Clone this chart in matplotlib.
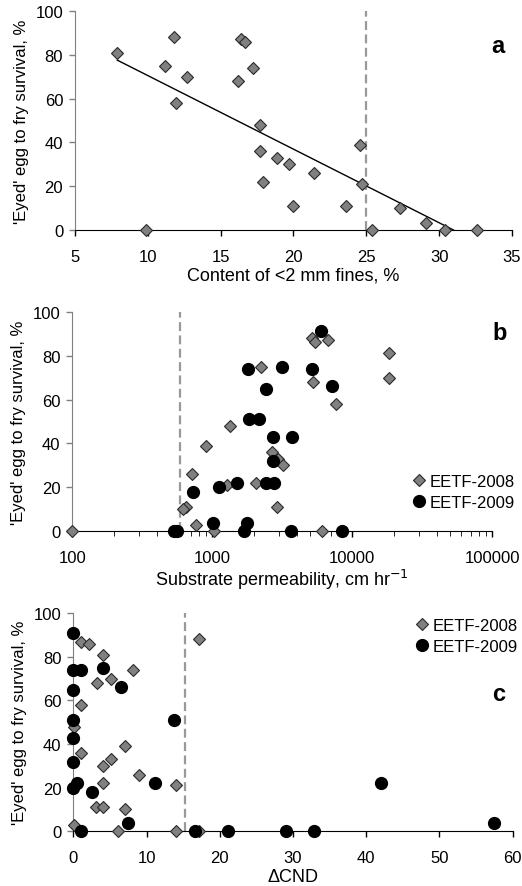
import numpy as np
import matplotlib
matplotlib.use("Agg")
import matplotlib.pyplot as plt
from matplotlib.ticker import FixedLocator, LogLocator, NullFormatter

plt.rcParams['font.family'] = ['Liberation Sans', 'DejaVu Sans']
plt.rcParams['font.size'] = 12

# panel a: fines content vs survival
fines_pct = [7.9, 11.8, 11.2, 12.7, 11.9, 9.9, 16.4, 16.7, 16.2, 17.2, 17.7, 17.7,
             17.9, 18.9, 19.7, 20.0, 21.4, 23.6, 24.6, 24.7, 25.4, 27.3, 29.1, 30.4, 32.6]
fines_surv = [81, 88, 75, 70, 58, 0, 87, 86, 68, 74, 48, 36,
              22, 33, 30, 11, 26, 11, 39, 21, 0, 10, 3, 0, 0]
trend_slope = -3.36
trend_intercept = 104.1
fines_limit = 25

# panel b: permeability vs survival
perm_2008 = [100, 5130, 5400, 6670, 18300, 18300, 2230, 5260, 7640, 1335, 900, 2650,
             2960, 3180, 720, 2040, 1280, 650, 620, 2910, 760, 1020, 6030]
surv_perm_2008 = [0, 88, 86, 87, 81, 70, 75, 68, 58, 48, 39, 36,
                  33, 30, 26, 22, 21, 11, 10, 11, 3, 0, 0]
perm_2009 = [5970, 1790, 3130, 5130, 2420, 7110, 1820, 2160, 2730, 3690, 2700, 724,
             1120, 1490, 2400, 2760, 1005, 1780, 530, 560, 1680, 3650, 8480]
surv_perm_2009 = [91, 74, 75, 74, 65, 66, 51, 51, 43, 43, 32, 18,
                  20, 22, 22, 22, 4, 4, 0, 0, 0, 0, 0]
perm_limit = 590

# panel c: delta CND vs survival
cnd_2008 = [1.1, 2.1, 4.1, 8.1, 5.1, 3.2, 1.1, 0.1, 7.1, 1.1, 5.1, 4.1,
            9.0, 4.1, 14.0, 3.1, 4.1, 7.1, 0.1, 6.1, 14.0, 17.1, 17.2]
surv_cnd_2008 = [87, 86, 81, 74, 70, 68, 58, 48, 39, 36, 33, 30,
                 26, 22, 21, 11, 11, 10, 3, 0, 0, 88, 0]
cnd_2009 = [0, 0, 1.1, 4.0, 0, 6.5, 0, 13.8, 0, 0, 0, 0.5,
            2.5, 11.1, 42.0, 7.5, 57.4, 1.1, 16.6, 21.1, 29.0, 32.9]
surv_cnd_2009 = [91, 74, 74, 75, 65, 66, 51, 51, 43, 32, 20, 22,
                 18, 22, 22, 4, 4, 0, 0, 0, 0, 0]
cnd_limit = 15.2

ylabel = "'Eyed' egg to fry survival, %"
diamond_kw = dict(marker='D', ms=6.2, mfc='#808080', mec='#2a2a2a', mew=0.8,
                  ls='none', clip_on=False, zorder=3)
circle_kw = dict(marker='o', ms=8.5, mfc='black', mec='black',
                 ls='none', clip_on=False, zorder=4)
dash_kw = dict(color='#999999', lw=1.6, ls=(0, (4, 2)), zorder=1)
legend_kw = dict(loc='upper left', frameon=False, fontsize=12, borderpad=0,
                 borderaxespad=0, handletextpad=0.0, labelspacing=0.35,
                 handlelength=1.3)


def style_axes(ax):
    for side in ('top', 'right'):
        ax.spines[side].set_visible(False)
    ax.spines['left'].set_color('#808080')
    ax.spines['bottom'].set_color('black')
    ax.tick_params(direction='out', length=4.5, width=1, labelsize=12)
    ax.tick_params(axis='y', colors='#808080', labelcolor='black', pad=4)
    ax.tick_params(axis='x', pad=9)
    ax.set_ylim(0, 100)
    ax.set_yticks(np.arange(0, 101, 20))
    ax.set_ylabel(ylabel, fontsize=12, labelpad=5)


fig = plt.figure(figsize=(5.22, 8.87), dpi=100)

# a
ax1 = fig.add_axes([0.1437, 0.7396, 0.837, 0.2469])
style_axes(ax1)
ax1.set_xlim(5, 35)
ax1.set_xticks(np.arange(5, 36, 5))
x_end = -trend_intercept / trend_slope
xs = np.array([min(fines_pct), x_end])
ax1.plot(xs, trend_slope * xs + trend_intercept, color='black', lw=1, zorder=2)
ax1.axvline(fines_limit, **dash_kw)
ax1.plot(fines_pct, fines_surv, **diamond_kw)
ax1.set_xlabel('Content of <2 mm fines, %', fontsize=13, labelpad=2)
ax1.text(0.984, 0.841, 'a', transform=ax1.transAxes, fontsize=17,
         fontweight='bold', ha='right', va='center')

# b
ax2 = fig.add_axes([0.1385, 0.3999, 0.8046, 0.2476])
style_axes(ax2)
ax2.set_xscale('log')
ax2.set_xlim(100, 100000)
ax2.xaxis.set_major_locator(FixedLocator([100, 1000, 10000, 100000]))
ax2.set_xticklabels(['100', '1000', '10000', '100000'])
ax2.xaxis.set_minor_locator(LogLocator(base=10, subs=np.arange(2, 10)))
ax2.xaxis.set_minor_formatter(NullFormatter())
ax2.tick_params(axis='x', which='minor', direction='out', length=3.5)
ax2.axvline(perm_limit, **dash_kw)
ax2.plot(perm_2008, surv_perm_2008, label='EETF-2008', **diamond_kw)
ax2.plot(perm_2009, surv_perm_2009, label='EETF-2009', **circle_kw)
ax2.set_xlabel('Substrate permeability, cm hr$^{-1}$', fontsize=13, labelpad=1)
ax2.legend(bbox_to_anchor=(0.799, 0.262), **legend_kw)
ax2.text(1.035, 0.907, 'b', transform=ax2.transAxes, fontsize=17,
         fontweight='bold', ha='right', va='center')

# c
ax3 = fig.add_axes([0.1404, 0.0617, 0.8418, 0.2458])
style_axes(ax3)
ax3.set_xlim(0, 60)
ax3.set_xticks(np.arange(0, 61, 10))
ax3.axvline(cnd_limit, **dash_kw)
ax3.plot(cnd_2008, surv_cnd_2008, label='EETF-2008', **diamond_kw)
ax3.plot(cnd_2009, surv_cnd_2009, label='EETF-2009', **circle_kw)
ax3.set_xlabel('ΔCND', fontsize=13, labelpad=2)
ax3.legend(bbox_to_anchor=(0.768, 0.978), **legend_kw)
ax3.text(0.982, 0.634, 'c', transform=ax3.transAxes, fontsize=17,
         fontweight='bold', ha='right', va='center')

fig.savefig('out.png', dpi=100)
